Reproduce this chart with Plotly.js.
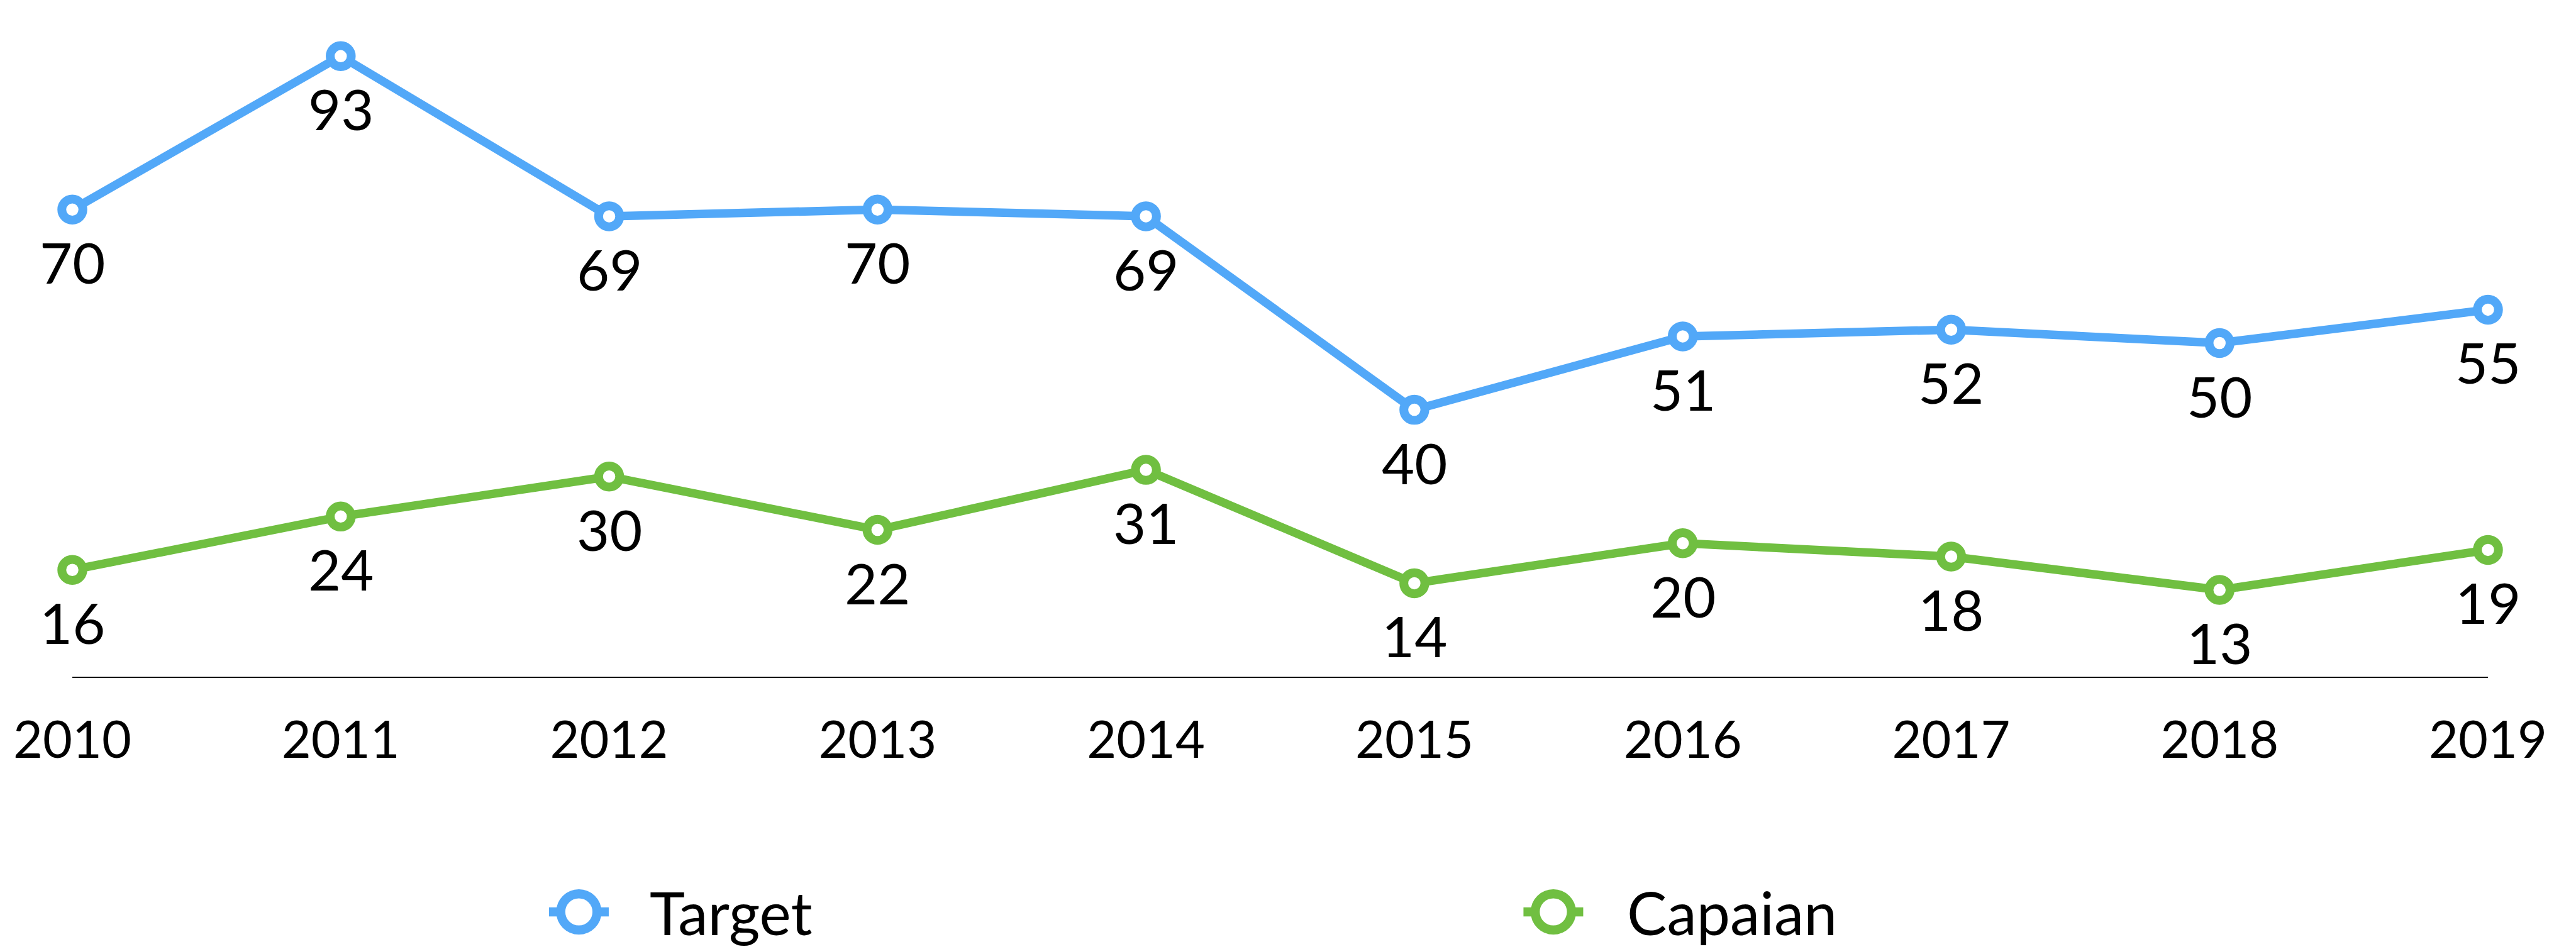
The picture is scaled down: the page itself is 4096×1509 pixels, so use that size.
<!DOCTYPE html>
<html>
<head>
<meta charset="utf-8">
<script src="https://cdn.plot.ly/plotly-3.0.1.min.js"></script>
<style>
  html, body { margin: 0; padding: 0; background: #ffffff; }
  #chart { width: 4096px; height: 1509px; }
</style>
</head>
<body>
<div id="chart"></div>
<script>
// ---- data ----
const years = [2010, 2011, 2012, 2013, 2014, 2015, 2016, 2017, 2018, 2019];
const targetValues = [70, 93, 69, 70, 69, 40, 51, 52, 50, 55];
const capaianValues = [16, 24, 30, 22, 31, 14, 20, 18, 13, 19];
const seriesNames = ['Target', 'Capaian'];
const tickLabels = ['2010', '2011', '2012', '2013', '2014', '2015', '2016', '2017', '2018', '2019'];

// ---- style ----
const FONT = 'Lato, "Open Sans", "Noto Sans", sans-serif';
const BLUE = '#52A8F8';
const GREEN = '#70BF41';
const LINE_W = 13.5;
const MARKER_SIZE = 33.5;
const MARKER_LW = 14;

function lineTrace(name, ys, color) {
  return {
    type: 'scatter',
    mode: 'lines+markers',
    name: name,
    x: years,
    y: ys,
    cliponaxis: false,
    showlegend: false,
    line: { color: color, width: LINE_W },
    marker: { symbol: 'circle', size: MARKER_SIZE, color: '#ffffff', line: { color: color, width: MARKER_LW } },
    hoverinfo: 'x+y+name'
  };
}

const traces = [
  lineTrace(seriesNames[0], targetValues, BLUE),
  lineTrace(seriesNames[1], capaianValues, GREEN)
];

// value labels below each point
const annotations = [];
[targetValues, capaianValues].forEach(vals => {
  vals.forEach((v, i) => {
    annotations.push({
      x: years[i], y: v, xref: 'x', yref: 'y',
      text: String(v), showarrow: false,
      xanchor: 'center', yanchor: 'middle', yshift: -83,
      font: { family: FONT, size: 90, color: '#000000' }
    });
  });
});

// custom legend
const legendY = -0.3525;
const legendItems = [
  { name: seriesNames[0], color: BLUE, cx: 0.2097, tx: 0.2385 },
  { name: seriesNames[1], color: GREEN, cx: 0.6131, tx: 0.6431 }
];
const shapes = [];
legendItems.forEach(it => {
  shapes.push({
    type: 'line', xref: 'paper', yref: 'paper',
    xsizemode: 'pixel', ysizemode: 'pixel',
    xanchor: it.cx, yanchor: legendY,
    x0: -47.5, x1: 47.5, y0: 0, y1: 0,
    line: { color: it.color, width: 14.4 }
  });
  shapes.push({
    type: 'circle', xref: 'paper', yref: 'paper',
    xsizemode: 'pixel', ysizemode: 'pixel',
    xanchor: it.cx, yanchor: legendY,
    x0: -28.8, x1: 28.8, y0: -28.8, y1: 28.8,
    fillcolor: '#ffffff',
    line: { color: it.color, width: 14.4 }
  });
  annotations.push({
    x: it.tx, y: legendY, xref: 'paper', yref: 'paper',
    text: it.name, showarrow: false,
    xanchor: 'left', yanchor: 'middle',
    font: { family: FONT, size: 95, color: '#000000' }
  });
});

const layout = {
  width: 4096,
  height: 1509,
  paper_bgcolor: '#ffffff',
  plot_bgcolor: '#ffffff',
  margin: { l: 115, r: 140, t: 15, b: 433, pad: 0 },
  showlegend: false,
  font: { family: FONT, color: '#000000' },
  xaxis: {
    range: [2010, 2019],
    tickvals: years,
    ticktext: tickLabels,
    ticks: '',
    showgrid: false,
    zeroline: false,
    showline: true,
    linecolor: '#000000',
    linewidth: 2.4,
    ticklabelstandoff: 29,
    tickfont: { family: FONT, size: 81, color: '#000000' },
    fixedrange: true
  },
  yaxis: {
    range: [0, 100],
    tickvals: [100],
    showticklabels: false,
    ticks: '',
    showgrid: true,
    gridcolor: '#9a9a9a',
    gridwidth: 2.4,
    griddash: '5px,4px',
    zeroline: false,
    showline: false,
    fixedrange: true
  },
  shapes: shapes,
  annotations: annotations
};

Plotly.newPlot('chart', traces, layout, { displayModeBar: false, staticPlot: true });
</script>
</body>
</html>
